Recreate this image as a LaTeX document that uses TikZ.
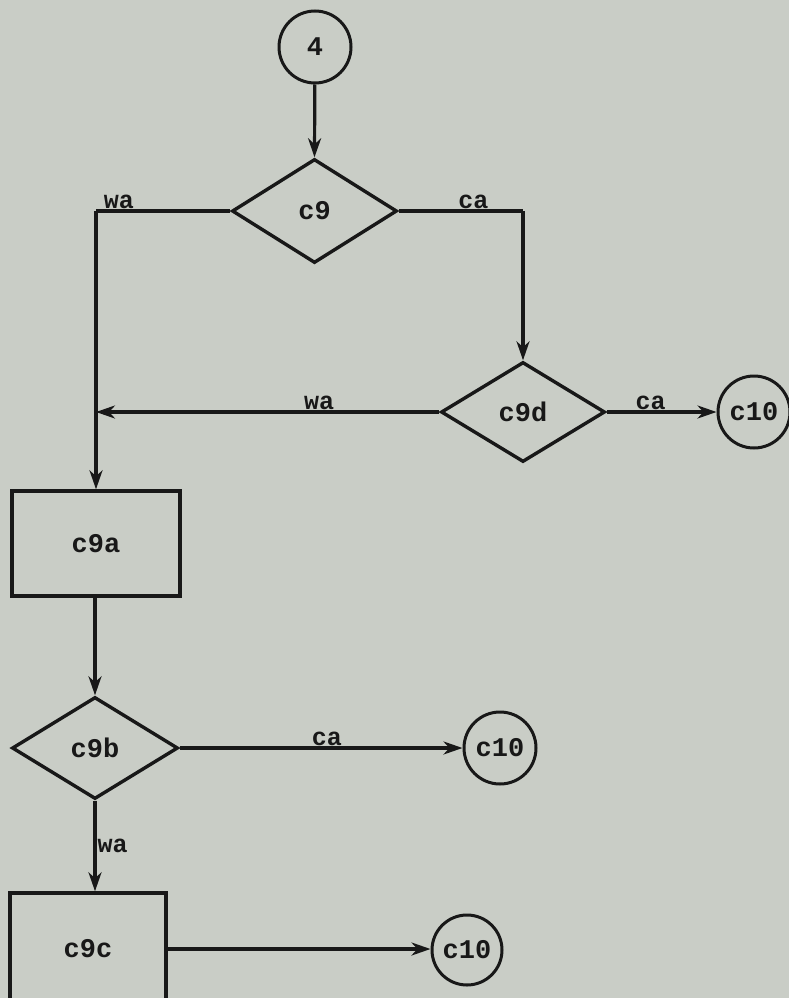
\documentclass[tikz,border=0pt]{standalone}
\usepackage{fontspec}
\setmonofont{Liberation Mono}
\usetikzlibrary{shapes.geometric,arrows.meta}
\definecolor{bgc}{RGB}{201,205,198}
\definecolor{ink}{RGB}{24,24,24}
\begin{document}
\begin{tikzpicture}[x=1pt,y=-1pt,
  every node/.style={font=\fontsize{27}{27}\selectfont\ttfamily\bfseries, text=ink},
  conn/.style={circle, draw=ink, line width=3pt, minimum size=72pt, inner sep=0pt},
  dec/.style={diamond, draw=ink, line width=3.4pt, inner sep=0pt},
  proc/.style={rectangle, draw=ink, line width=3.4pt, inner sep=0pt},
  ln/.style={draw=ink, line width=3.2pt},
  arr/.style={ln, -{Stealth[length=19pt,width=13pt,inset=6pt]}},
  lab/.style={font=\fontsize{25}{25}\selectfont\ttfamily\bfseries, inner sep=1pt}]
\fill[bgc] (0,0) rectangle (789,998);
\useasboundingbox (0,0) rectangle (789,998);

\node[conn] (n4) at (315,47) {4};
\node[dec, minimum width=165pt, minimum height=104pt] (c9) at (314.5,211) {c9};
\node[dec, minimum width=164pt, minimum height=100pt] (c9d) at (523,412) {c9d};
\node[conn] (c10a) at (754,412) {c10};
\node[proc, minimum width=168pt, minimum height=105pt] (c9a) at (96,543.5) {c9a};
\node[dec, minimum width=166pt, minimum height=102pt] (c9b) at (95,748) {c9b};
\node[conn] (c10b) at (500,748) {c10};
\node[proc, minimum width=156pt, minimum height=112pt] (c9c) at (88,949) {c9c};
\node[conn, minimum size=70pt] (c10c) at (467,950) {c10};

\coordinate (jL) at (c9a.north |- c9.west);
\coordinate (jM) at (c9a.north |- c9d.west);
\coordinate (jR) at (c9d.north |- c9.east);
\coordinate (jB) at (c9b.north |- c9a.south);
\coordinate (jC) at (c9b.south |- c9c.north);

\draw[arr] (n4) -- (c9.north);
\draw[ln] (c9.west) -- node[lab, above, pos=0.83] {wa} (jL);
\draw[arr] (jL) -- (c9a.north);
\draw[arr] (c9d.west) -- node[lab, above, pos=0.35] {wa} (jM);
\draw[ln] (c9.east) -- node[lab, above, pos=0.6] {ca} (jR);
\draw[arr] (jR) -- (c9d.north);
\draw[arr] (c9d.east) -- node[lab, above, pos=0.4] {ca} (c10a.west);
\draw[arr] (jB) -- (c9b.north);
\draw[arr] (c9b.east) -- node[lab, above, pos=0.52] {ca} (c10b.west);
\draw[arr] (c9b.south) -- node[lab, right, pos=0.5] {wa} (jC);
\draw[arr] (c9c.east) -- (c9c.east -| c10c.west);
\end{tikzpicture}
\end{document}
